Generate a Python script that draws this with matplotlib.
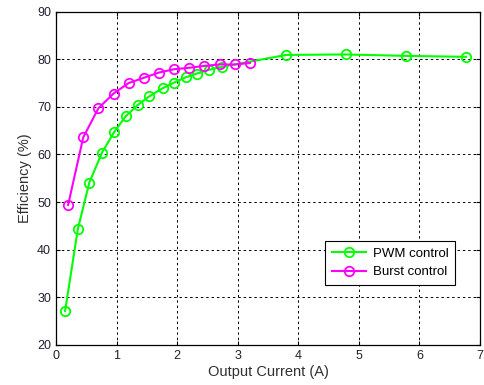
import matplotlib.pyplot as plt

plt.rcParams['font.family'] = ['Liberation Sans', 'DejaVu Sans']

# PWM control (green)
pwm_i = [0.15, 0.36, 0.55, 0.76, 0.96, 1.15, 1.35, 1.54, 1.76, 1.95, 2.14, 2.33, 2.53, 2.74,
         3.80, 4.78, 5.78, 6.77]
pwm_eff = [27.1, 44.3, 54.1, 60.4, 64.7, 68.0, 70.4, 72.2, 73.9, 75.1, 76.2, 77.0, 77.8, 78.4,
           80.9, 81.0, 80.7, 80.5]

# Burst control (magenta)
burst_i = [0.2, 0.45, 0.7, 0.95, 1.2, 1.45, 1.7, 1.95, 2.2, 2.45, 2.7, 2.95, 3.2]
burst_eff = [49.4, 63.6, 69.7, 72.8, 75.0, 76.1, 77.2, 77.9, 78.2, 78.6, 78.9, 78.9, 79.2]

fig = plt.figure(figsize=(4.84, 3.85), dpi=100)
ax = fig.add_axes([0.1157, 0.1039, 0.876, 0.866])

ax.plot(pwm_i, pwm_eff, color='#00ff00', lw=1.5, marker='o', ms=6.8, mfc='none',
        mew=1.3, label='PWM control')
ax.plot(burst_i, burst_eff, color='#ff00ff', lw=1.5, marker='o', ms=6.8, mfc='none',
        mew=1.3, label='Burst control')

ax.set_xlim(0, 7)
ax.set_ylim(20, 90)
ax.set_xticks(range(0, 8))
ax.set_yticks(range(20, 91, 10))
ax.grid(True, color='black', linestyle=(0, (2.5, 3)), linewidth=0.7)
ax.tick_params(direction='in', top=True, right=True, length=3, labelsize=9,
               labelcolor='#202030')
for s in ax.spines.values():
    s.set_linewidth(0.9)

ax.set_xlabel('Output Current (A)', fontsize=10.5, color='#303030', labelpad=2)
ax.set_ylabel('Efficiency (%)', fontsize=10.5, color='#303030', labelpad=4)

leg = ax.legend(loc='lower right', bbox_to_anchor=(0.941, 0.18), borderaxespad=0,
                fontsize=9.5, fancybox=False, edgecolor='black', framealpha=1,
                handlelength=2.6, handletextpad=0.5, borderpad=0.5, labelspacing=0.5)
leg.get_frame().set_linewidth(0.8)

fig.savefig('out.png', dpi=100)
